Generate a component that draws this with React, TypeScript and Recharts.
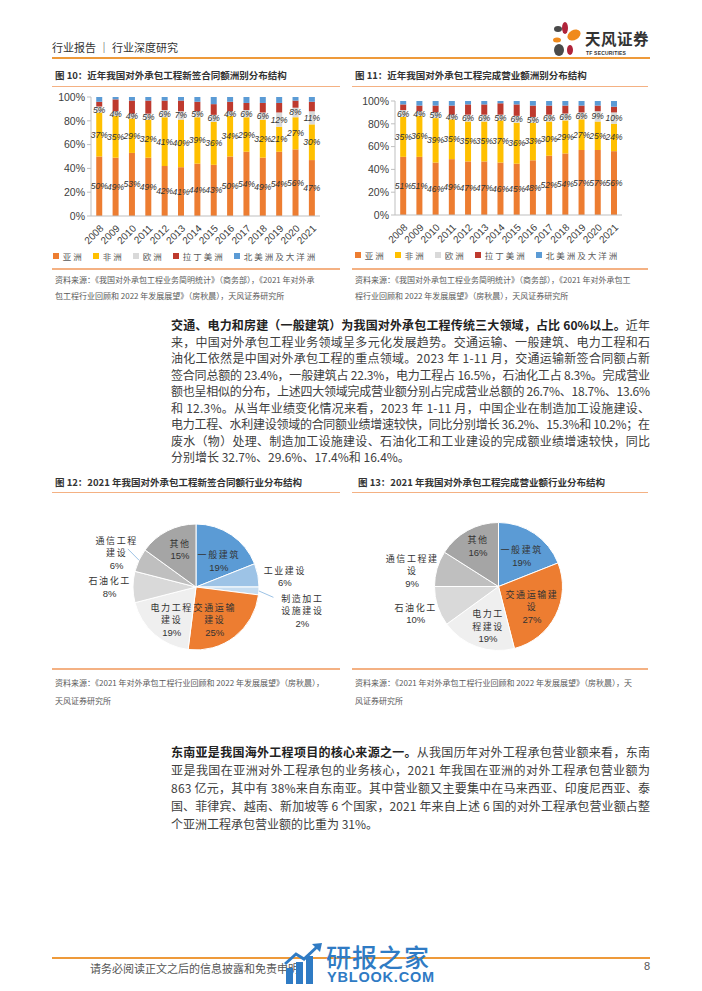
import React from 'react';
import { BarChart, Bar, XAxis, YAxis, Legend, LabelList, PieChart, Pie, Cell } from 'recharts';

const years = ['2008', '2009', '2010', '2011', '2012', '2013', '2014', '2015', '2016', '2017', '2018', '2019', '2020', '2021'];
const continents = ['亚洲', '非洲', '欧洲', '拉丁美洲', '北美洲及大洋洲'];
const continentKeys = ['asia', 'africa', 'europe', 'latam', 'naoc'];
const continentColors = ['#ED7D31', '#FFC000', '#D9D9D9', '#BE3A2E', '#5B9BD5'];

// 图10 新签合同额洲别占比 (%)
const signedAsia = [50, 49, 53, 49, 42, 41, 44, 43, 50, 54, 49, 54, 56, 47];
const signedAfrica = [37, 35, 29, 32, 41, 40, 39, 36, 34, 29, 32, 21, 27, 30];
const signedEurope = [5, 4, 4, 5, 6, 7, 5, 6, 4, 6, 6, 12, 8, 11];
const signedLatam = [4, 10, 11, 11, 8, 9, 8, 9, 8, 6, 8, 8, 6, 8];
const signedNaoc = [4, 2, 3, 3, 3, 3, 4, 6, 4, 5, 5, 5, 3, 4];

// 图11 完成营业额洲别占比 (%)
const doneAsia = [51, 51, 46, 49, 47, 47, 46, 45, 48, 52, 54, 57, 57, 56];
const doneAfrica = [35, 36, 39, 35, 35, 35, 37, 36, 33, 30, 29, 27, 25, 24];
const doneEurope = [6, 4, 5, 4, 6, 6, 5, 6, 5, 6, 6, 6, 9, 10];
const doneLatam = [5, 5, 6, 8, 9, 9, 10, 10, 10, 8, 7, 6, 5, 5];
const doneNaoc = [3, 4, 4, 4, 3, 3, 2, 3, 4, 4, 4, 4, 4, 5];

const ticks20 = [0, 20, 40, 60, 80, 100];
const ticks10 = [0, 10, 20, 30, 40, 50, 60, 70, 80, 90, 100];

// 图12 新签合同额行业分布 (%)
const signedIndustries = ['一般建筑', '工业建设', '制造加工设施建设', '交通运输建设', '电力工程建设', '石油化工', '通信工程建设', '其他'];
const signedShares = [19, 6, 2, 25, 19, 8, 6, 15];
// 图13 完成营业额行业分布 (%)
const doneIndustries = ['一般建筑', '交通运输建设', '电力工程建设', '石油化工', '通信工程建设', '其他'];
const doneShares = [19, 27, 19, 10, 9, 16];

const industryColors: Record<string, string> = {
  '一般建筑': '#5B9BD5',
  '工业建设': '#9DC3E6',
  '制造加工设施建设': '#C5DCF0',
  '交通运输建设': '#ED7D31',
  '电力工程建设': '#EFEFEF',
  '石油化工': '#D9D9D9',
  '通信工程建设': '#BFBFBF',
  '其他': '#A5A5A5',
};

const toRows = (a: number[], b: number[], c: number[], d: number[], e: number[]) =>
  years.map((year, i) => ({ year, asia: a[i], africa: b[i], europe: c[i], latam: d[i], naoc: e[i] }));

const signedRows = toRows(signedAsia, signedAfrica, signedEurope, signedLatam, signedNaoc);
const doneRows = toRows(doneAsia, doneAfrica, doneEurope, doneLatam, doneNaoc);

const CN = '"Noto Sans CJK SC", "Noto Sans", sans-serif';
const LAT = '"Liberation Sans", Arial, "Noto Sans CJK SC", sans-serif';

const ContinentLegend = () => (
  <div style={{ display: 'flex', justifyContent: 'center', alignItems: 'center', gap: 9, fontSize: 8.5, color: '#595959', letterSpacing: 2, fontFamily: CN, whiteSpace: 'nowrap' }}>
    {continents.map((c, i) => (
      <span key={c} style={{ display: 'flex', alignItems: 'center', flexShrink: 0 }}>
        <span style={{ width: 6, height: 6, background: continentColors[i], marginRight: 4, display: 'inline-block' }} />
        {c}
      </span>
    ))}
  </div>
);

const ContinentChart = ({ rows, ticks, width, height, yWidth, top, right }: any) => (
  <BarChart width={width} height={height} data={rows} margin={{ top, right, bottom: 0, left: 0 }} barCategoryGap="32%">
    <XAxis dataKey="year" interval={0} angle={-45} textAnchor="end" height={34}
      tick={{ fontSize: 10, fill: '#404040' }} tickLine={false} axisLine={{ stroke: '#BFBFBF' }} />
    <YAxis domain={[0, 100]} ticks={ticks} tickFormatter={(v: number) => `${v}%`} width={yWidth}
      tick={{ fontSize: 10.5, fill: '#404040' }} axisLine={{ stroke: '#BFBFBF' }} tickLine={{ stroke: '#BFBFBF' }} tickSize={4} />
    <Legend verticalAlign="bottom" height={16} content={() => <ContinentLegend />} />
    {continentKeys.map((k, i) => (
      <Bar key={k} dataKey={k} stackId="s" fill={continentColors[i]} isAnimationActive={false}>
        {i < 3 && (
          <LabelList dataKey={k} position="center" formatter={(v: any) => `${v}%`}
            fill="#333" fontSize={8.5} fontStyle="italic" />
        )}
      </Bar>
    ))}
  </BarChart>
);

const makePieLabel = (names: string[], values: number[], radii: number[], shifts: number[], wraps: number[], leaders: boolean[]) =>
  (props: any) => {
    const { cx, cy, midAngle, outerRadius, index } = props;
    const RAD = Math.PI / 180;
    const a = (midAngle - shifts[index]) * RAD;
    const r = outerRadius * radii[index];
    const x = cx + r * Math.cos(a);
    const y = cy - r * Math.sin(a);
    const name = names[index];
    const lines: string[] = [];
    for (let i = 0; i < name.length; i += wraps[index]) lines.push(name.slice(i, i + wraps[index]));
    lines.push(`${values[index]}%`);
    const lh = 12.5;
    const y0 = y - ((lines.length - 1) * lh) / 2;
    const m = midAngle * RAD;
    return (
      <g>
        {leaders[index] && (
          <line x1={cx + outerRadius * Math.cos(m)} y1={cy - outerRadius * Math.sin(m)}
            x2={cx + outerRadius * 1.24 * Math.cos(m - 4 * RAD)} y2={cy - outerRadius * 1.24 * Math.sin(m - 4 * RAD)}
            stroke="#9DC3E6" strokeWidth={1} />
        )}
        {lines.map((l, i) => {
          const isPct = i === lines.length - 1;
          return (
            <text key={i} x={x} y={y0 + i * lh} textAnchor="middle" dominantBaseline="central"
              fontSize={isPct ? 9.5 : 9} fill="#333" letterSpacing={isPct ? 0 : 1.6}
              style={{ fontFamily: isPct ? LAT : CN }}>
              {l}
            </text>
          );
        })}
      </g>
    );
  };

const signedPieLabel = makePieLabel(signedIndustries, signedShares,
  [0.55, 1.42, 1.73, 0.6, 0.65, 1.37, 1.37, 0.65],
  [7, 4, 9, 8, -5, 0, -2, 4],
  [4, 4, 4, 4, 4, 4, 4, 4],
  [false, false, true, false, false, false, true, false]);

const donePieLabel = makePieLabel(doneIndustries, doneShares,
  [0.6, 0.61, 0.64, 1.36, 1.37, 0.71],
  [3, 4, -5, 0, -6, 2],
  [5, 5, 3, 5, 5, 5],
  [false, false, false, false, false, false]);

const IndustryPie = ({ names, values, width, height, cx, cy, r, label }: any) => (
  <PieChart width={width} height={height}>
    <Pie data={names.map((n: string, i: number) => ({ name: n, value: values[i] }))} dataKey="value" nameKey="name"
      cx={cx} cy={cy} outerRadius={r} startAngle={90} endAngle={-270} stroke="#fff" strokeWidth={1}
      label={label} labelLine={false} isAnimationActive={false}>
      {names.map((n: string) => <Cell key={n} fill={industryColors[n]} />)}
    </Pie>
  </PieChart>
);

const para1: [string, string][] = [
  ['交通、电力和房建（一般建筑）为我国对外承包工程传统三大领域，占比 60%以上。', '近年'],
  ['', '来，中国对外承包工程业务领域呈多元化发展趋势。交通运输、一般建筑、电力工程和石'],
  ['', '油化工依然是中国对外承包工程的重点领域。2023 年 1-11 月，交通运输新签合同额占新'],
  ['', '签合同总额的 23.4%，一般建筑占 22.3%，电力工程占 16.5%，石油化工占 8.3%。完成营业'],
  ['', '额也呈相似的分布，上述四大领域完成营业额分别占完成营业总额的 26.7%、18.7%、13.6%'],
  ['', '和 12.3%。从当年业绩变化情况来看，2023 年 1-11 月，中国企业在制造加工设施建设、'],
  ['', '电力工程、水利建设领域的合同额业绩增速较快，同比分别增长 36.2%、15.3%和 10.2%；在'],
  ['', '废水（物）处理、制造加工设施建设、石油化工和工业建设的完成额业绩增速较快，同比'],
  ['', '分别增长 32.7%、29.6%、17.4%和 16.4%。'],
];

const para2: [string, string][] = [
  ['东南亚是我国海外工程项目的核心来源之一。', '从我国历年对外工程承包营业额来看，东南'],
  ['', '亚是我国在亚洲对外工程承包的业务核心，2021 年我国在亚洲的对外工程承包营业额为'],
  ['', '863 亿元，其中有 38%来自东南亚。其中营业额又主要集中在马来西亚、印度尼西亚、泰'],
  ['', '国、菲律宾、越南、新加坡等 6 个国家，2021 年来自上述 6 国的对外工程承包营业额占整'],
  ['', '个亚洲工程承包营业额的比重为 31%。'],
];

const PARA_W = 479;

const Paragraph = ({ lines, top, lh }: any) => (
  <svg style={{ position: 'absolute', left: 171, top, overflow: 'visible' }} width={PARA_W + 12} height={lines.length * lh + 6}>
    {lines.map(([b, t]: [string, string], i: number) => {
      const last = i === lines.length - 1;
      const fit = last ? {} : { textLength: PARA_W, lengthAdjust: 'spacing' };
      return (
        <text key={i} x={0} y={i * lh + lh / 2 + 4.2} fontSize={12} fill="#404040" style={{ fontFamily: CN }} {...fit}>
          {b && <tspan fontWeight={700} fill="#222">{b}</tspan>}
          {t && <tspan>{t}</tspan>}
        </text>
      );
    })}
  </svg>
);

const Abs = ({ l, t, children, style }: any) => (
  <div style={{ position: 'absolute', left: l, top: t, whiteSpace: 'nowrap', ...style }}>{children}</div>
);

const Rule = ({ l, t, w, c = '#F4B183', h = 1.5 }: any) => (
  <div style={{ position: 'absolute', left: l, top: t, width: w, height: h, background: c }} />
);

const titleStyle = { fontSize: 9.5, fontWeight: 700, color: '#333', fontFamily: CN };
const srcStyle = { fontSize: 8, color: '#595959', fontFamily: CN };

export default function App() {
  return (
    <div style={{ position: 'relative', width: 702, height: 991, background: '#fff', overflow: 'hidden', fontFamily: LAT }}>
      <style>{'body{margin:0}'}</style>

      {/* header */}
      <Abs l={52} t={39} style={{ fontSize: 11, color: '#333', fontFamily: CN }}>行业报告 ｜ 行业深度研究</Abs>
      <Rule l={52} t={57} w={598} c="#EE9A3A" h={1.5} />
      <svg style={{ position: 'absolute', left: 550, top: 20 }} width={34} height={40}>
        <ellipse cx={8} cy={9} rx={4} ry={3} fill="#4A4A4A" />
        <ellipse cx={15} cy={8} rx={3} ry={6} fill="#B0243A" />
        <ellipse cx={24} cy={15} rx={7} ry={5} fill="#F08A1C" transform="rotate(-30 24 15)" />
        <ellipse cx={7} cy={20} rx={4} ry={2.5} fill="#F08A1C" />
        <ellipse cx={9} cy={30} rx={5} ry={6} fill="#4A4A4A" />
        <ellipse cx={20} cy={30} rx={3} ry={5} fill="#B0243A" />
      </svg>
      <Abs l={585} t={28} style={{ fontSize: 15.5, lineHeight: '20px', fontWeight: 700, color: '#333', fontFamily: CN, letterSpacing: 0.5 }}>天风证券</Abs>
      <Abs l={586} t={50} style={{ fontSize: 5, lineHeight: '6px', fontWeight: 700, color: '#333', letterSpacing: 0.2 }}>TF SECURITIES</Abs>

      {/* figure 10 / 11 */}
      <Abs l={55} t={68} style={titleStyle}>图 10：近年我国对外承包工程新签合同额洲别分布结构</Abs>
      <Rule l={52} t={86} w={288} h={1} />
      <Abs l={355} t={68} style={titleStyle}>图 11：近年我国对外承包工程完成营业额洲别分布结构</Abs>
      <Rule l={352} t={86} w={296} h={1} />

      <div style={{ position: 'absolute', left: 50, top: 90 }}>
        <ContinentChart rows={signedRows} ticks={ticks20} width={290} height={176} yWidth={41} top={7} right={20} />
      </div>
      <div style={{ position: 'absolute', left: 352, top: 92 }}>
        <ContinentChart rows={doneRows} ticks={ticks10} width={296} height={173} yWidth={43} top={9} right={26} />
      </div>

      <Rule l={52} t={268} w={288} />
      <Rule l={352} t={268} w={296} />
      <Abs l={55} t={274} style={srcStyle}>资料来源：《我国对外承包工程业务简明统计》（商务部），《2021 年对外承</Abs>
      <Abs l={55} t={290} style={srcStyle}>包工程行业回顾和 2022 年发展展望》（房秋晨），天风证券研究所</Abs>
      <Abs l={355} t={274} style={srcStyle}>资料来源：《我国对外承包工程业务简明统计》（商务部），《2021 年对外承包工</Abs>
      <Abs l={355} t={290} style={srcStyle}>程行业回顾和 2022 年发展展望》（房秋晨），天风证券研究所</Abs>

      <Paragraph lines={para1} top={318} lh={16.5} />

      {/* figure 12 / 13 */}
      <Abs l={55} t={475} style={titleStyle}>图 12：2021 年我国对外承包工程新签合同额行业分布结构</Abs>
      <Rule l={52} t={492} w={288} h={1} />
      <Abs l={358} t={475} style={titleStyle}>图 13：2021 年我国对外承包工程完成营业额行业分布结构</Abs>
      <Rule l={352} t={492} w={296} h={1} />

      <div style={{ position: 'absolute', left: 52, top: 492 }}>
        <IndustryPie names={signedIndustries} values={signedShares} width={288} height={175} cx={139} cy={90} r={63} label={signedPieLabel} />
      </div>
      <div style={{ position: 'absolute', left: 352, top: 492 }}>
        <IndustryPie names={doneIndustries} values={doneShares} width={296} height={175} cx={141.5} cy={89.5} r={64} label={donePieLabel} />
      </div>

      <Rule l={52} t={668} w={288} />
      <Rule l={352} t={668} w={296} />
      <Abs l={55} t={677} style={srcStyle}>资料来源：《2021 年对外承包工程行业回顾和 2022 年发展展望》（房秋晨），</Abs>
      <Abs l={55} t={695} style={srcStyle}>天风证券研究所</Abs>
      <Abs l={355} t={677} style={srcStyle}>资料来源：《2021 年对外承包工程行业回顾和 2022 年发展展望》（房秋晨），天</Abs>
      <Abs l={355} t={695} style={srcStyle}>风证券研究所</Abs>

      <Paragraph lines={para2} top={744} lh={18} />

      {/* footer */}
      <Rule l={52} t={957} w={598} c="#EE9A3A" h={1.5} />
      <Abs l={90} t={960} style={{ fontSize: 11, color: '#555', fontFamily: CN }}>请务必阅读正文之后的信息披露和免责申明</Abs>
      <Abs l={644} t={960} style={{ fontSize: 11, color: '#555' }}>8</Abs>
      <svg style={{ position: 'absolute', left: 284, top: 942 }} width={40} height={44}>
        <rect x={2} y={26} width={7} height={16} fill="#2F7BC4" />
        <rect x={12} y={20} width={7} height={22} fill="#2F7BC4" />
        <rect x={22} y={14} width={7} height={28} fill="#2F7BC4" />
        <polyline points="1,22 12,12 20,17 34,4" fill="none" stroke="#2F7BC4" strokeWidth={3} />
        <polygon points="28,2 38,1 36,10" fill="#2F7BC4" />
      </svg>
      <Abs l={326} t={938} style={{ fontSize: 25, fontWeight: 500, color: '#2F7BC4', fontFamily: CN, letterSpacing: 1 }}>研报之家</Abs>
      <Abs l={327} t={969} style={{ fontSize: 14.5, fontWeight: 700, color: '#2F7BC4', letterSpacing: 0.8 }}>YBLOOK.COM</Abs>
    </div>
  );
}
